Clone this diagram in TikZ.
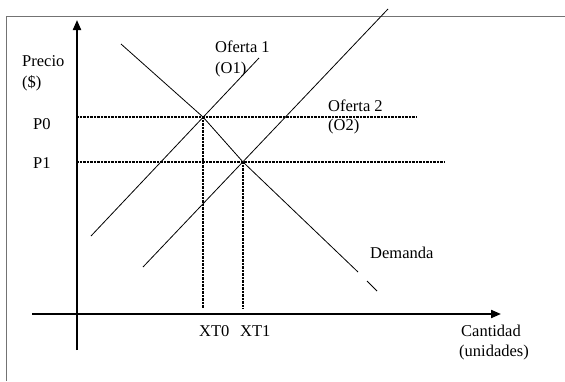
\documentclass[tikz,border=0pt]{standalone}
\usepackage{fontspec}
\setmainfont{Liberation Serif}
\usetikzlibrary{arrows.meta}
\begin{document}
\begin{tikzpicture}[x=1pt,y=-1pt,
  lbl/.style={anchor=base west,inner sep=0pt,font=\fontsize{16.5}{20}\selectfont},
  axis/.style={line width=2pt,-{Triangle[length=10pt,width=8pt]}},
  curve/.style={line width=0.8pt},
  guide/.style={line width=1.5pt,dash pattern=on 1pt off 0.4pt},
  frame/.style={line width=1pt,draw=black!55}]
\useasboundingbox (0,0) rectangle (565,381);
% frame
\coordinate (fbl) at (6,381);
\coordinate (ftl) at (6,16);
\coordinate (ftr) at (565,16);
\draw[frame] (fbl) -- (ftl) -- (ftr);
% axes
\coordinate (ya) at (77,350);
\coordinate (yb) at (77,20);
\coordinate (xa) at (32,314);
\coordinate (xb) at (501,314);
\draw[axis] (ya) -- (yb);
\draw[axis] (xa) -- (xb);
% key points
\coordinate (e0) at (203,117);
\coordinate (e1) at (243,162);
\coordinate (p0s) at (77,117);
\coordinate (p0e) at (416,117);
\coordinate (p1s) at (77,162);
\coordinate (p1e) at (444,162);
\coordinate (x0b) at (203,308);
\coordinate (x1b) at (243,308);
% guides
\draw[guide] (p0s) -- (p0e);
\draw[guide] (p1s) -- (p1e);
\draw[guide] (e0) -- (x0b);
\draw[guide] (e1) -- (x1b);
% supply 1
\coordinate (o1a) at (91,236);
\coordinate (o1b) at (259,58);
\draw[curve] (o1a) -- (o1b);
% supply 2
\coordinate (o2a) at (143,267);
\coordinate (o2b) at (388,9);
\draw[curve] (o2a) -- (o2b);
% demand
\coordinate (da) at (121,44);
\coordinate (db) at (358,272);
\coordinate (dc) at (367,281);
\coordinate (dd) at (377,291);
\draw[curve] (da) -- (e0) -- (e1) -- (db);
\draw[curve] (dc) -- (dd);
% labels
\node[lbl] (precio) at (22,66) {Precio};
\node[lbl] (dolar) at (22,87) {(\$)};
\node[lbl] (p0) at (33,129) {P0};
\node[lbl] (p1) at (33,168) {P1};
\node[lbl] (of1) at (215,52) {Oferta 1};
\node[lbl] (of1b) at (215,73) {(O1)};
\node[lbl] (of2) at (328,111) {Oferta 2};
\node[lbl] (of2b) at (328,130) {(O2)};
\node[lbl] (dem) at (370,258) {Demanda};
\node[lbl] (xt0) at (199,336) {XT0};
\node[lbl] (xt1) at (240,336) {XT1};
\node[lbl] (cant) at (461,336) {Cantidad};
\node[lbl] (unid) at (459,356) {(unidades)};
\end{tikzpicture}
\end{document}
